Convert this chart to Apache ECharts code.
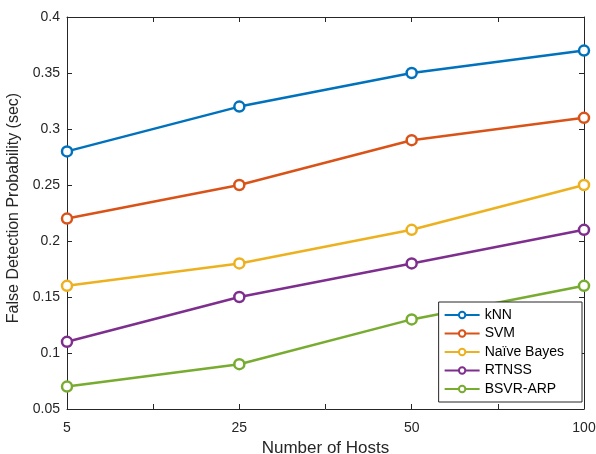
<!DOCTYPE html>
<html>
<head>
<meta charset="utf-8">
<script src="https://cdn.jsdelivr.net/npm/echarts@6/dist/echarts.min.js"></script>
<style>
  html, body { margin: 0; padding: 0; background: #fff; }
  #chart { width: 596px; height: 454px; }
</style>
</head>
<body>
<div id="chart"></div>
<script>
// x positions are evenly spaced; host counts are only tick labels
const hostLabels = ["5", "25", "50", "100"];
const hostPos = [0, 2, 4, 6];

const knn = [0.28, 0.32, 0.35, 0.37];
const svm = [0.22, 0.25, 0.29, 0.31];
const naiveBayes = [0.16, 0.18, 0.21, 0.25];
const rtnss = [0.11, 0.15, 0.18, 0.21];
const bsvrArp = [0.07, 0.09, 0.13, 0.16];

const names = ["kNN", "SVM", "Naïve Bayes", "RTNSS", "BSVR-ARP"];
const values = [knn, svm, naiveBayes, rtnss, bsvrArp];
const colors = ["#0072BD", "#D95319", "#EDB120", "#7E2F8E", "#77AC30"];

const font = "'Liberation Sans', Arial, sans-serif";
const axisColor = "#262626";

const chart = echarts.init(document.getElementById("chart"));

function xLabel(v) {
  const i = hostPos.indexOf(v);
  return i >= 0 ? hostLabels[i] : "";
}
function yLabel(v) {
  return String(+v.toFixed(2));
}

const axisLine = { show: true, onZero: false, lineStyle: { color: axisColor, width: 1 } };
const axisTick = { show: true, inside: true, length: 5, lineStyle: { color: axisColor } };

chart.setOption({
  animation: false,
  color: colors,
  grid: { left: 67, right: 12, top: 17, bottom: 45, outerBoundsMode: "none" },
  xAxis: [
    {
      type: "value", min: 0, max: 6, interval: 1,
      axisLine, axisTick, splitLine: { show: false },
      axisLabel: { formatter: xLabel, color: axisColor, fontFamily: font, fontSize: 14, margin: 12 },
      name: "Number of Hosts", nameLocation: "middle", nameGap: 30,
      nameTextStyle: { color: axisColor, fontFamily: font, fontSize: 17 }
    },
    {
      type: "value", position: "top", min: 0, max: 6, interval: 1,
      axisLine, axisTick, splitLine: { show: false }, axisLabel: { show: false }
    }
  ],
  yAxis: [
    {
      type: "value", min: 0.05, max: 0.4, interval: 0.05,
      axisLine, axisTick, splitLine: { show: false },
      axisLabel: { formatter: yLabel, color: axisColor, fontFamily: font, fontSize: 14, margin: 7 },
      name: "False Detection Probability (sec)", nameLocation: "middle", nameGap: 43,
      nameTextStyle: { color: axisColor, fontFamily: font, fontSize: 16, padding: [0, 0, 0, 10] }
    },
    {
      type: "value", position: "right", min: 0.05, max: 0.4, interval: 0.05,
      axisLine, axisTick, splitLine: { show: false }, axisLabel: { show: false }
    }
  ],
  legend: {
    orient: "vertical",
    right: 14, top: 302,
    backgroundColor: "#fff",
    borderColor: axisColor, borderWidth: 1, borderRadius: 0,
    padding: [6, 18, 6, 5],
    itemWidth: 35, itemHeight: 8, itemGap: 4.5,
    textStyle: { color: "#000", fontFamily: font, fontSize: 14, lineHeight: 14 },
    data: names
  },
  series: names.map((n, k) => ({
    name: n,
    type: "line",
    data: values[k].map((v, i) => [hostPos[i], v]),
    symbol: "circle",
    symbolSize: 10,
    lineStyle: { width: 2.5, color: colors[k] },
    itemStyle: { color: "#fff", borderColor: colors[k], borderWidth: 2.5 }
  }))
});
</script>
</body>
</html>
